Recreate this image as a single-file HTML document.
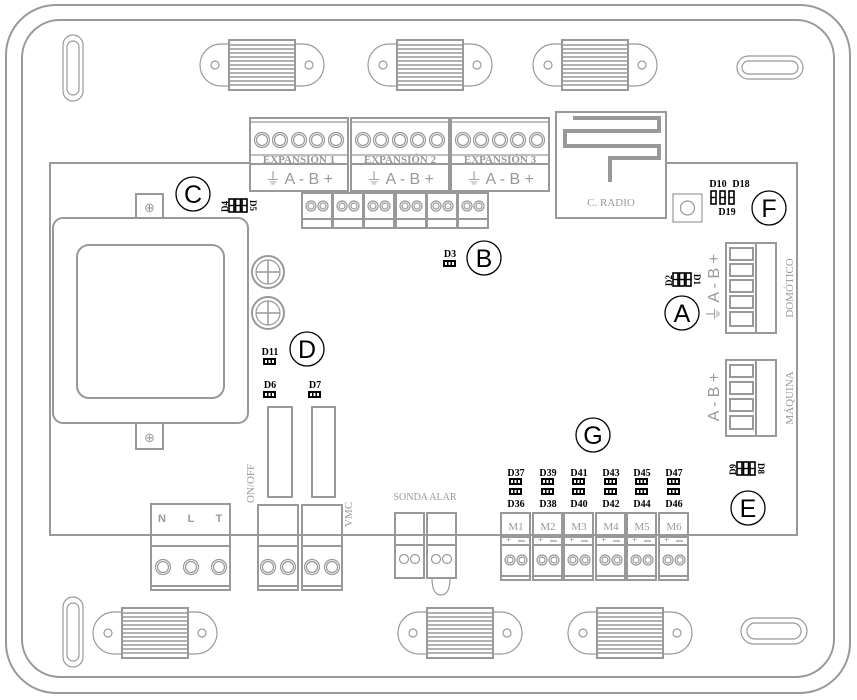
<!DOCTYPE html>
<html><head><meta charset="utf-8"><style>
html,body{margin:0;padding:0;background:#fff;}
svg{display:block;}
.g{fill:none;stroke:#999;stroke-width:2;}
.g1{fill:none;stroke:#999;stroke-width:1.2;}
.t{font-family:"Liberation Serif",serif;fill:#999;}
.k{font-family:"Liberation Serif",serif;fill:#000;font-weight:bold;}
.s{font-family:"Liberation Sans",sans-serif;}
</style></head><body>
<svg width="857" height="700" viewBox="0 0 857 700" xmlns="http://www.w3.org/2000/svg">
<defs>
<g id="mount">
 <rect x="-62" y="-21" width="124" height="42" rx="21" class="g1" fill="#fff"/>
 <circle cx="-47" cy="0" r="4" class="g1"/><circle cx="47" cy="0" r="4" class="g1"/>
 <rect x="-33" y="-25" width="66" height="50" fill="#fff" stroke="#999" stroke-width="2"/>
 <path d="M-33 -20H33M-33 -16H33M-33 -12H33M-33 -8H33M-33 -4H33M-33 0H33M-33 4H33M-33 8H33M-33 12H33M-33 16H33M-33 20H33" stroke="#999" stroke-width="1.5"/>
</g>
<g id="led"><rect x="0" y="0" width="13" height="7" fill="#000"/><rect x="2" y="2" width="2" height="3" fill="#fff"/><rect x="5.5" y="2" width="2" height="3" fill="#fff"/><rect x="9" y="2" width="2" height="3" fill="#fff"/></g>
<g id="vled"><rect x="0" y="0" width="5" height="13" fill="none" stroke="#000" stroke-width="1.6"/><line x1="0" y1="6.5" x2="5" y2="6.5" stroke="#000" stroke-width="1.4"/></g>
<g id="pin2"><rect x="0" y="0" width="30" height="35" class="g"/><line x1="0" y1="26" x2="30" y2="26" class="g"/><circle cx="9" cy="13" r="5" class="g1"/><circle cx="9" cy="13" r="3" class="g1"/><circle cx="21" cy="13" r="5" class="g1"/><circle cx="21" cy="13" r="3" class="g1"/></g>
<g id="m"><rect x="0" y="0" width="29" height="67" class="g"/><line x1="0" y1="24" x2="29" y2="24" class="g"/><line x1="0" y1="32" x2="29" y2="32" class="g"/><line x1="0" y1="63" x2="29" y2="63" class="g"/>
 <text x="5" y="29.5" class="s" font-size="9" fill="#999">+</text><line x1="17" y1="28" x2="24" y2="28" stroke="#999" stroke-width="1.3"/>
 <circle cx="9" cy="47" r="5" class="g1"/><circle cx="9" cy="47" r="3" class="g1"/><circle cx="21" cy="47" r="5" class="g1"/><circle cx="21" cy="47" r="3" class="g1"/></g>
<g id="c5"><circle cx="0" cy="0" r="7.5" class="g1"/><circle cx="0" cy="0" r="5.5" class="g1"/></g>
<g id="exp"><rect x="0" y="0" width="98" height="73" class="g"/><line x1="0" y1="4" x2="98" y2="4" class="g1"/><line x1="0" y1="37" x2="98" y2="37" class="g1"/><line x1="0" y1="46" x2="98" y2="46" class="g"/>
 <use href="#c5" x="12" y="22"/><use href="#c5" x="30" y="22"/><use href="#c5" x="49" y="22"/><use href="#c5" x="67" y="22"/><use href="#c5" x="86" y="22"/></g>
</defs>

<rect x="6" y="5" width="844" height="688" rx="50" class="g"/>
<rect x="22" y="20" width="812" height="657" rx="38" class="g"/>
<rect x="63" y="35" width="20" height="66" rx="10" class="g1"/><rect x="67" y="41" width="12" height="54" rx="6" class="g1"/>
<rect x="737" y="56" width="66" height="23" rx="11.5" class="g1"/><rect x="742" y="61" width="56" height="13" rx="6.5" class="g1"/>
<rect x="63" y="597" width="20" height="70" rx="10" class="g1"/><rect x="67" y="603" width="12" height="58" rx="6" class="g1"/>
<rect x="741" y="618" width="66" height="26" rx="13" class="g1"/><rect x="747" y="623" width="54" height="16" rx="8" class="g1"/>
<use href="#mount" x="262" y="65"/><use href="#mount" x="430" y="65"/><use href="#mount" x="595" y="65"/>
<use href="#mount" x="155" y="633"/><use href="#mount" x="460" y="633"/><use href="#mount" x="630" y="633"/>

<path d="M250 163H50V535H797V163H666" class="g"/>

<use href="#exp" x="250" y="118"/><use href="#exp" x="351" y="118"/><use href="#exp" x="451" y="118"/>
<g class="t" font-size="11" font-weight="bold" text-anchor="middle">
<text x="299" y="163">EXPANSIÓN 1</text><text x="400" y="163">EXPANSIÓN 2</text><text x="500" y="163">EXPANSIÓN 3</text></g>
<g class="t s" font-size="16" text-anchor="middle">
<text x="299" y="184">⏚ A - B +</text><text x="400" y="184">⏚ A - B +</text><text x="500" y="184">⏚ A - B +</text></g>
<use href="#pin2" x="302" y="193"/><use href="#pin2" x="333" y="193"/><use href="#pin2" x="364" y="193"/><use href="#pin2" x="396" y="193"/><use href="#pin2" x="427" y="193"/><use href="#pin2" x="458" y="193"/>

<rect x="556" y="112" width="110" height="106" class="g"/>
<path d="M573 118H659V131H565V146H659V158H610V182" fill="none" stroke="#999" stroke-width="4"/>
<text x="611" y="206" class="t" font-size="11" text-anchor="middle">C. RADIO</text>
<rect x="673" y="194" width="29" height="28" class="g1"/><circle cx="687.5" cy="208" r="7" class="g1"/>

<rect x="136" y="194" width="27" height="24" class="g"/><text x="149.5" y="212" class="s" font-size="13" fill="#999" text-anchor="middle">⊕</text>
<rect x="136" y="423" width="27" height="26" class="g"/><text x="149.5" y="442" class="s" font-size="13" fill="#999" text-anchor="middle">⊕</text>
<rect x="53" y="218" width="195" height="205" rx="10" class="g" fill="#fff"/>
<rect x="77" y="245" width="147" height="153" rx="12" class="g"/>
<circle cx="268" cy="272" r="16" class="g"/><circle cx="268" cy="272" r="12" class="g1"/><path d="M256 272H280M268 260V284" stroke="#999" stroke-width="1.5"/>
<circle cx="268" cy="313" r="16" class="g"/><circle cx="268" cy="313" r="12" class="g1"/><path d="M256 313H280M268 301V325" stroke="#999" stroke-width="1.5"/>

<rect x="268" y="407" width="24" height="90" class="g"/><rect x="312" y="407" width="23" height="90" class="g"/>

<rect x="726" y="243" width="50" height="90" class="g"/><line x1="756" y1="243" x2="756" y2="333" class="g"/>
<rect x="730" y="248" width="23" height="12" class="g"/><rect x="730" y="264" width="23" height="12" class="g"/><rect x="730" y="280" width="23" height="12" class="g"/><rect x="730" y="296" width="23" height="12" class="g"/><rect x="730" y="312" width="23" height="14" class="g"/>
<text transform="translate(793,288) rotate(-90)" class="t" font-size="11" text-anchor="middle">DOMÓTICO</text>
<text transform="translate(719,288) rotate(-90)" class="t s" font-size="16" text-anchor="middle">⏚ A - B +</text>
<rect x="726" y="360" width="50" height="76" class="g"/><line x1="756" y1="360" x2="756" y2="436" class="g"/>
<rect x="730" y="365" width="23" height="12" class="g"/><rect x="730" y="382" width="23" height="12" class="g"/><rect x="730" y="399" width="23" height="12" class="g"/><rect x="730" y="416" width="23" height="13" class="g"/>
<text transform="translate(793,398) rotate(-90)" class="t" font-size="11" text-anchor="middle">MÁQUINA</text>
<text transform="translate(719,397) rotate(-90)" class="t s" font-size="16" text-anchor="middle">A - B +</text>

<rect x="151" y="504" width="79" height="86" class="g"/><line x1="151" y1="535" x2="230" y2="535" class="g"/><line x1="151" y1="546" x2="230" y2="546" class="g"/><line x1="151" y1="586" x2="230" y2="586" class="g"/>
<g class="s" font-size="11" fill="#999" font-weight="bold" text-anchor="middle"><text x="162" y="522">N</text><text x="191" y="522">L</text><text x="219" y="522">T</text></g>
<use href="#c5" x="163" y="567"/><use href="#c5" x="191" y="567"/><use href="#c5" x="219" y="567"/>
<rect x="258" y="505" width="40" height="85" class="g"/><line x1="258" y1="535" x2="298" y2="535" class="g"/><line x1="258" y1="546" x2="298" y2="546" class="g"/><line x1="258" y1="586" x2="298" y2="586" class="g"/>
<use href="#c5" x="268" y="567"/><use href="#c5" x="288" y="567"/>
<rect x="302" y="505" width="40" height="85" class="g"/><line x1="302" y1="535" x2="342" y2="535" class="g"/><line x1="302" y1="546" x2="342" y2="546" class="g"/><line x1="302" y1="586" x2="342" y2="586" class="g"/>
<use href="#c5" x="312" y="567"/><use href="#c5" x="332" y="567"/>
<text transform="translate(254,503) rotate(-90)" class="t" font-size="11">ON/OFF</text>
<text transform="translate(352,527) rotate(-90)" class="t" font-size="11">VMC</text>
<text x="425" y="500" class="t" font-size="10" text-anchor="middle">SONDA ALAR</text>
<rect x="395" y="513" width="29" height="65" class="g"/><line x1="395" y1="535" x2="424" y2="535" class="g"/><line x1="395" y1="545" x2="424" y2="545" class="g"/>
<rect x="427" y="513" width="29" height="65" class="g"/><line x1="427" y1="535" x2="456" y2="535" class="g"/><line x1="427" y1="545" x2="456" y2="545" class="g"/>
<circle cx="404" cy="559" r="4.5" class="g1"/><circle cx="415" cy="559" r="4.5" class="g1"/><circle cx="436" cy="559" r="4.5" class="g1"/><circle cx="447" cy="559" r="4.5" class="g1"/>
<path d="M432 578Q432 595 441 595Q450 595 450 578" class="g1"/>
<use href="#m" x="501" y="513"/><use href="#m" x="533" y="513"/><use href="#m" x="564" y="513"/><use href="#m" x="596" y="513"/><use href="#m" x="627" y="513"/><use href="#m" x="659" y="513"/>
<g class="t" font-size="11" text-anchor="middle"><text x="516" y="530">M1</text><text x="548" y="530">M2</text><text x="579" y="530">M3</text><text x="611" y="530">M4</text><text x="642" y="530">M5</text><text x="674" y="530">M6</text></g>

<g class="k" font-size="10" text-anchor="middle">
<text x="516" y="476">D37</text><text x="548" y="476">D39</text><text x="579" y="476">D41</text><text x="611" y="476">D43</text><text x="642" y="476">D45</text><text x="674" y="476">D47</text>
<text x="516" y="507">D36</text><text x="548" y="507">D38</text><text x="579" y="507">D40</text><text x="611" y="507">D42</text><text x="642" y="507">D44</text><text x="674" y="507">D46</text>
<text x="270" y="355">D11</text><text x="270" y="388">D6</text><text x="315" y="388">D7</text><text x="450" y="257">D3</text>
<text x="718" y="187">D10</text><text x="741" y="187">D18</text><text x="727" y="215">D19</text>
</g>
<use href="#led" x="509" y="478"/><use href="#led" x="509" y="488"/><use href="#led" x="541" y="478"/><use href="#led" x="541" y="488"/><use href="#led" x="572" y="478"/><use href="#led" x="572" y="488"/><use href="#led" x="604" y="478"/><use href="#led" x="604" y="488"/><use href="#led" x="635" y="478"/><use href="#led" x="635" y="488"/><use href="#led" x="667" y="478"/><use href="#led" x="667" y="488"/>
<use href="#led" x="263" y="358"/><use href="#led" x="263" y="391"/><use href="#led" x="308" y="391"/><use href="#led" x="443" y="260"/>
<use href="#vled" x="711" y="191"/><use href="#vled" x="720" y="191"/><use href="#vled" x="729" y="191"/>
<use href="#vled" x="229" y="199"/><use href="#vled" x="235.5" y="199"/><use href="#vled" x="242" y="199"/>
<text transform="translate(228,212) rotate(-90)" class="k" font-size="9">D4</text><text transform="translate(250,200) rotate(90)" class="k" font-size="9">D5</text>
<use href="#vled" x="673" y="273"/><use href="#vled" x="679.5" y="273"/><use href="#vled" x="686" y="273"/>
<text transform="translate(672,286) rotate(-90)" class="k" font-size="9">D2</text><text transform="translate(694,274) rotate(90)" class="k" font-size="9">D1</text>
<use href="#vled" x="737" y="462"/><use href="#vled" x="743.5" y="462"/><use href="#vled" x="750" y="462"/>
<text transform="translate(736,475) rotate(-90)" class="k" font-size="9">D9</text><text transform="translate(758,463) rotate(90)" class="k" font-size="9">D8</text>

<g fill="#fff" stroke="#000" stroke-width="1.3">
<circle cx="193" cy="194" r="17"/><circle cx="484" cy="258" r="17"/><circle cx="682" cy="313" r="17"/><circle cx="307" cy="349" r="17"/><circle cx="593" cy="435" r="17"/><circle cx="748" cy="508" r="17"/><circle cx="769" cy="208" r="17"/></g>
<g class="s" font-size="25" fill="#000" text-anchor="middle">
<text x="193" y="203">C</text><text x="484" y="267">B</text><text x="682" y="322">A</text><text x="307" y="358">D</text><text x="593" y="444">G</text><text x="748" y="517">E</text><text x="769" y="217">F</text></g>
</svg>
</body></html>
